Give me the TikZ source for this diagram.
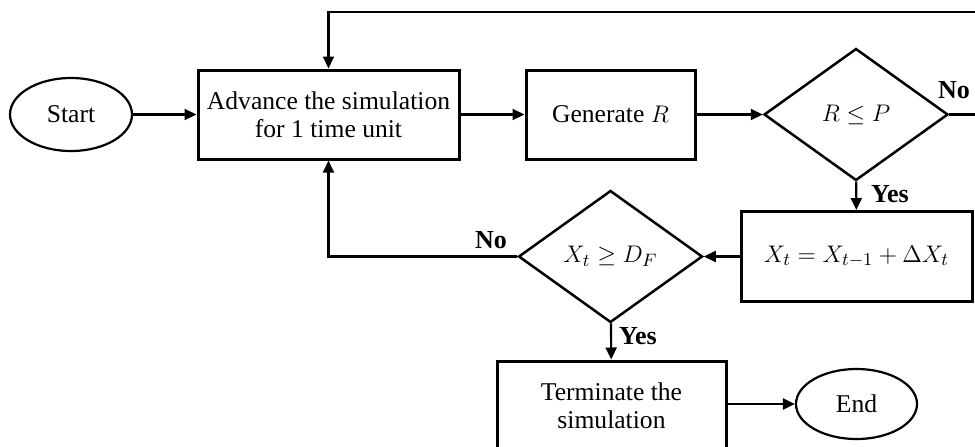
\documentclass[tikz,border=0pt]{standalone}
\usepackage{fontspec}
\setmainfont{Liberation Serif}
\usetikzlibrary{shapes.geometric,arrows.meta}
\tikzset{
  boxnode/.style={draw, line width=1.5pt, rectangle, minimum height=44.5pt, inner sep=0pt, align=center, font=\fontsize{12.8}{15}\selectfont},
  ovalnode/.style={draw, line width=1.1pt, ellipse, inner sep=0pt, font=\fontsize{12.8}{15}\selectfont},
  decnode/.style={draw, line width=1.25pt, diamond, inner sep=0pt, minimum width=92pt, minimum height=66pt, font=\fontsize{12.8}{15}\selectfont},
  conn/.style={line width=1.05pt, -{Triangle[length=6pt,width=5.5pt]}},
  lbl/.style={font=\fontsize{13}{15}\selectfont\bfseries, inner sep=0pt}
}
\begin{document}
\begin{tikzpicture}[x=0.5pt,y=-0.5pt]
\useasboundingbox (0,0) rectangle (975,446);
\clip (0,0) rectangle (975,446);
\node[ovalnode, minimum width=61pt, minimum height=36.5pt] (start) at (71,114.5) {Start};
\node[boxnode, minimum width=130.5pt] (adv) at (328.5,114.5) {Advance the simulation\\[-1pt]for 1 time unit};
\node[boxnode, minimum width=84.5pt] (gen) at (610.5,114.5) {Generate $R$};
\node[decnode] (d1) at (856,114.5) {$R \leq P$};
\node[boxnode, minimum width=115.5pt, minimum height=45pt] (xt) at (856.5,256.5) {$X_t = X_{t-1} + \Delta X_t$};
\node[decnode] (d2) at (610.5,256.5) {$X_t \geq D_F$};
\node[boxnode, minimum width=114.5pt] (term) at (611.5,405.5) {Terminate the\\[-1pt]simulation};
\node[ovalnode, minimum width=60.5pt, minimum height=35pt] (end) at (856.5,404) {End};
\coordinate (rc) at (990,114.5);
\coordinate (tc) at (990,12);
\draw[conn] (start) -- (adv);
\draw[conn] (adv) -- (gen);
\draw[conn] (gen) -- (d1);
\draw[conn] (d1) -- (xt);
\draw[conn] (xt) -- (d2);
\draw[conn] (d2) -- (term);
\draw[conn] (d2.west) -| (adv.south);
\draw[conn] (term.east |- end.west) -- (end.west);
\draw[conn] (d1.east) -- (rc) -- (tc) -| (adv.north);
\node[lbl] (no1) at (954,90) {No};
\node[lbl] (yes1) at (890,194) {Yes};
\node[lbl] (no2) at (491,240) {No};
\node[lbl] (yes2) at (638,336) {Yes};
\end{tikzpicture}
\end{document}
